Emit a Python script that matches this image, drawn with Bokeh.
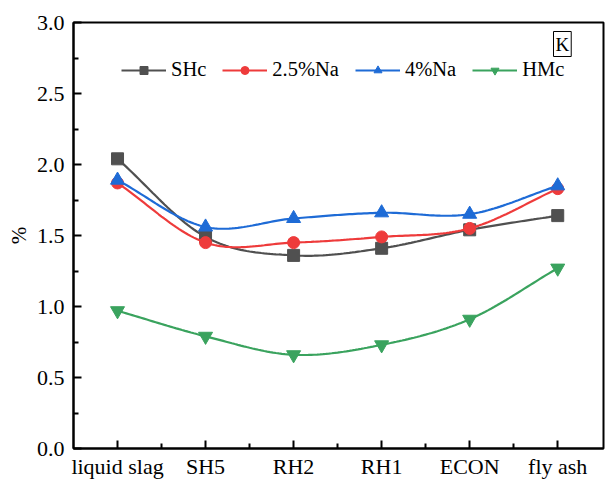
import numpy as np
from bokeh.plotting import figure
from bokeh.models import FixedTicker, Legend, LegendItem, Label, Range1d, CustomJSTickFormatter
from bokeh.embed import file_html
from bokeh.resources import INLINE

categories = ["liquid slag", "SH5", "RH2", "RH1", "ECON", "fly ash"]
shc = [2.04, 1.49, 1.36, 1.41, 1.54, 1.64]
na25 = [1.87, 1.45, 1.45, 1.49, 1.55, 1.83]
na4 = [1.89, 1.56, 1.62, 1.66, 1.65, 1.85]
hmc = [0.97, 0.79, 0.66, 0.73, 0.91, 1.27]

series = [
    ("SHc", shc, "#505050", "square", 12),
    ("2.5%Na", na25, "#EE3B3B", "circle", 12),
    ("4%Na", na4, "#1E6BD6", "triangle", 14),
    ("HMc", hmc, "#3AA35E", "inverted_triangle", 14),
]

FONT = "Liberation Serif"


def catmull_rom(xs, ys, n=30):
    xs = np.asarray(xs, float)
    ys = np.asarray(ys, float)
    px = np.concatenate([[2 * xs[0] - xs[1]], xs, [2 * xs[-1] - xs[-2]]])
    py = np.concatenate([[2 * ys[0] - ys[1]], ys, [2 * ys[-1] - ys[-2]]])
    ox, oy = [], []
    for i in range(1, len(px) - 2):
        t = np.linspace(0, 1, n, endpoint=(i == len(px) - 3))
        for arr, out in ((px, ox), (py, oy)):
            p0, p1, p2, p3 = arr[i - 1], arr[i], arr[i + 1], arr[i + 2]
            out.extend(0.5 * ((2 * p1) + (-p0 + p2) * t
                              + (2 * p0 - 5 * p1 + 4 * p2 - p3) * t ** 2
                              + (-p0 + 3 * p1 - 3 * p2 + p3) * t ** 3))
    return ox, oy


p = figure(width=607, height=481, output_backend="svg", toolbar_location=None,
           x_range=Range1d(-0.5, 5.52), y_range=Range1d(0, 3.0),
           min_border_left=73, min_border_right=4, min_border_top=22,
           min_border_bottom=33)
p.background_fill_color = "white"
p.border_fill_color = "white"
p.grid.visible = False
p.outline_line_color = "black"
p.outline_line_width = 2

xs = list(range(len(categories)))
items = []
for name, vals, color, marker, size in series:
    cx, cy = catmull_rom(xs, vals)
    r1 = p.line(cx, cy, line_color=color, line_width=2.2)
    r2 = p.scatter(xs, vals, marker=marker, size=size, fill_color=color,
                   line_color=color)
    items.append(LegendItem(label=name, renderers=[r1, r2]))

legend = Legend(items=items, orientation="horizontal", location=(48, 367))
legend.border_line_color = None
legend.background_fill_alpha = 0
legend.padding = 0
legend.margin = 0
legend.spacing = 16
legend.glyph_width = 45
legend.glyph_height = 20
legend.label_height = 20
legend.label_standoff = 5
legend.label_text_font = FONT
legend.label_text_font_size = "20.5px"
legend.label_text_color = "black"
p.add_layout(legend)

p.xaxis.ticker = FixedTicker(ticks=xs, minor_ticks=[0.5, 1.5, 2.5, 3.5, 4.5])
p.xaxis.major_label_overrides = {i: c for i, c in enumerate(categories)}
p.yaxis.ticker = FixedTicker(ticks=[0, 0.5, 1.0, 1.5, 2.0, 2.5, 3.0],
                             minor_ticks=[0.25, 0.75, 1.25, 1.75, 2.25, 2.75])
p.yaxis.formatter = CustomJSTickFormatter(code="return tick.toFixed(1);")
p.yaxis.axis_label = "%"

for ax in (p.xaxis[0], p.yaxis[0]):
    ax.axis_line_width = 2
    ax.axis_line_color = "black"
    ax.major_tick_in = 8
    ax.major_tick_out = 0
    ax.minor_tick_in = 5
    ax.minor_tick_out = 0
    ax.major_tick_line_width = 2
    ax.minor_tick_line_width = 2
    ax.major_label_text_font = FONT
    ax.major_label_text_font_size = "22px"
    ax.major_label_text_color = "black"
    ax.axis_label_text_font = FONT
    ax.axis_label_text_font_size = "21px"
    ax.axis_label_text_font_style = "normal"
    ax.axis_label_text_color = "black"
p.xaxis.major_label_standoff = 5
p.yaxis.major_label_standoff = 9
p.yaxis.axis_label_standoff = 3

k = Label(x=5.52, y=3.0, x_offset=-50, y_offset=-34, text="K",
          text_font=FONT, text_font_size="19px", text_color="black",
          border_line_color="black", border_line_width=1,
          padding=2)
p.add_layout(k)

open("out.html", "w").write(file_html(p, INLINE))
